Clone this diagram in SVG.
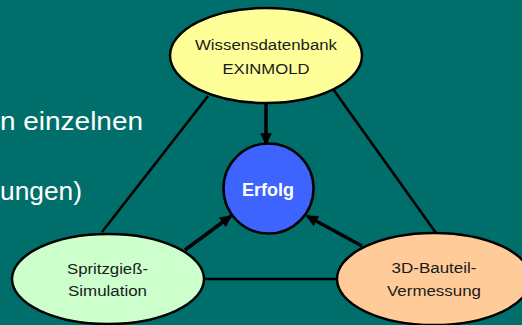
<svg xmlns="http://www.w3.org/2000/svg" width="522" height="325" viewBox="0 0 522 325">
  <style>
    .node { stroke: #000; stroke-width: 2.5; }
    .label { font-family: "Liberation Sans", Arial, sans-serif; font-size: 15.5px; fill: #1a1a1a; text-anchor: middle; }
    .side { font-family: "Liberation Sans", Arial, sans-serif; font-size: 25px; fill: #ffffff; text-anchor: end; }
    .edge { stroke: #000; stroke-width: 2.6; fill: none; }
    .flow { stroke: #000; stroke-width: 3.5; fill: none; marker-end: url(#head); }
  </style>
  <defs>
    <marker id="head" viewBox="0 0 10 10" refX="9" refY="5" markerWidth="3.6" markerHeight="3.4" orient="auto" markerUnits="strokeWidth">
      <path d="M0,0 L10,5 L0,10 Z" fill="#000"/>
    </marker>
  </defs>

  <rect width="522" height="325" fill="#006e6a"/>

  <!-- slide body text, clipped at the left edge -->
  <text class="side" x="143" y="130" textLength="143" lengthAdjust="spacingAndGlyphs">n einzelnen</text>
  <text class="side" x="82" y="200" textLength="82" lengthAdjust="spacingAndGlyphs">ungen)</text>

  <!-- connectors -->
  <g id="connectors">
    <line class="edge" x1="208" y1="96" x2="102" y2="232"/>
    <line class="edge" x1="333" y1="89" x2="436" y2="233"/>
    <line class="edge" x1="205" y1="279" x2="340" y2="279"/>
    <line class="flow" x1="266" y1="103" x2="266" y2="144"/>
    <line class="flow" x1="185" y1="250" x2="231" y2="216"/>
    <line class="flow" x1="362" y1="246" x2="307" y2="216"/>
  </g>

  <g id="wissensdatenbank">
    <ellipse class="node" cx="266" cy="55.5" rx="96" ry="47.5" fill="#ffff99"/>
    <text class="label" x="266" y="50" textLength="142" lengthAdjust="spacingAndGlyphs">Wissensdatenbank</text>
    <text class="label" x="266" y="74" textLength="87" lengthAdjust="spacingAndGlyphs">EXINMOLD</text>
  </g>

  <g id="erfolg">
    <circle class="node" cx="268.5" cy="188.5" r="45" fill="#3d64ff"/>
    <text x="268" y="195.5" font-family="'Liberation Sans', Arial, sans-serif" font-size="17.5" font-weight="bold" fill="#ffffff" text-anchor="middle" textLength="52" lengthAdjust="spacingAndGlyphs">Erfolg</text>
  </g>

  <g id="spritzgiess">
    <ellipse class="node" cx="108" cy="279" rx="96" ry="45" fill="#ccffcc"/>
    <text class="label" x="107.5" y="274" textLength="81" lengthAdjust="spacingAndGlyphs">Spritzgieß-</text>
    <text class="label" x="107.5" y="296" textLength="79" lengthAdjust="spacingAndGlyphs">Simulation</text>
  </g>

  <g id="vermessung">
    <ellipse class="node" cx="434" cy="279" rx="97" ry="46" fill="#ffcc99"/>
    <text class="label" x="434" y="273" textLength="85" lengthAdjust="spacingAndGlyphs">3D-Bauteil-</text>
    <text class="label" x="434" y="296" textLength="94" lengthAdjust="spacingAndGlyphs">Vermessung</text>
  </g>
</svg>
